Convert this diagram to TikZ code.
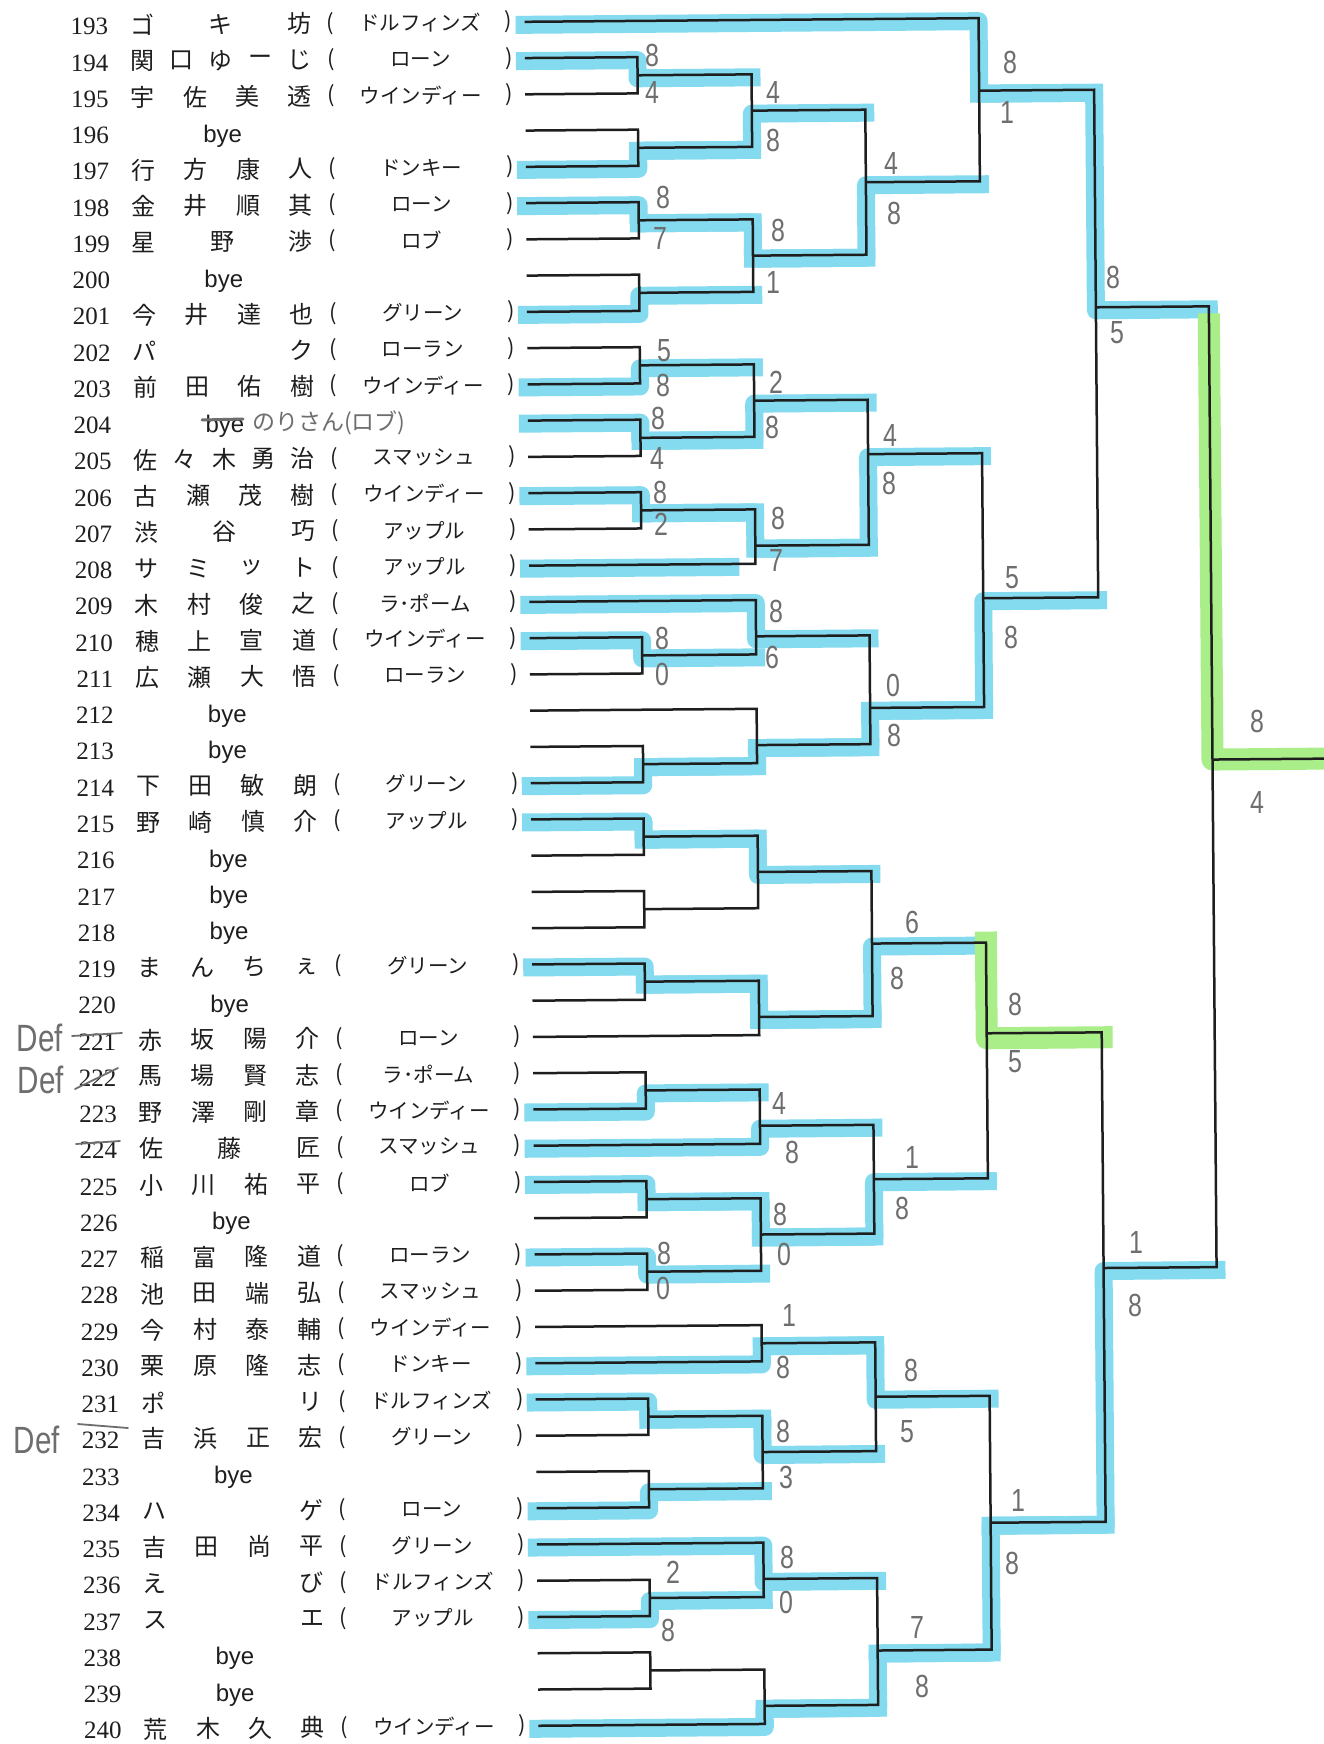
\documentclass[tikz,border=0pt]{standalone}
\usepackage{fontspec}
\setmainfont{Liberation Serif}
\newfontfamily\jpf{Noto Sans CJK JP}
\newfontfamily\sansf{Liberation Sans}
\newfontfamily\handf{Liberation Sans}[FakeStretch=0.78]
\pgfdeclarelayer{bg}
\pgfsetlayers{bg,main}
\definecolor{hlb}{RGB}{132,218,238}
\definecolor{hlg}{RGB}{170,238,138}
\definecolor{ink}{RGB}{30,30,30}
\definecolor{penc}{RGB}{110,110,110}
\pgfmathdeclarefunction{ry}{1}{\pgfmathparse{20.7+36.26*(#1-193)}}
\tikzset{
  br/.style={draw=ink, line width=2.5pt},
  hlbs/.style={draw=hlb, line width=18pt, line cap=rect, line join=round},
  hlgs/.style={draw=hlg, line width=22pt, line cap=rect, line join=round},
  numst/.style={font=\fontsize{25}{25}\selectfont, anchor=east, inner sep=0pt, text=ink},
  nmst/.style={font=\jpf\fontsize{24}{24}\selectfont, inner sep=0pt, text=ink},
  prn/.style={font=\jpf\fontsize{22}{22}\selectfont, inner sep=0pt, text=ink},
  teamst/.style={font=\jpf\fontsize{20.5}{20.5}\selectfont, inner sep=0pt, text=ink},
  byest/.style={font=\sansf\fontsize{24}{24}\selectfont, inner sep=0pt, anchor=base, text=ink},
  scst/.style={font=\handf\fontsize{32}{32}\selectfont, text=penc, inner sep=0pt},
  defst/.style={font=\handf\fontsize{38}{38}\selectfont, text=penc, inner sep=0pt},
  handjp/.style={font=\jpf\fontsize{23}{23}\selectfont, text=penc, inner sep=0pt},
  penl/.style={draw=penc, line width=1.8pt, line cap=round},
}
\newcommand\entry[4]{%
  \node[numst] (num#1) at (115,{ry(#1)+1.5}) {#1};
  \foreach \nmc [count=\k from 0] in {#3}
    \node[nmst] (nm#1-\k) at ({149+157*\k/(#2-1)},{ry(#1)}) {\nmc};
  \node[prn] (lp#1) at (337.5,{ry(#1)}) {(};
  \node[teamst] (tm#1) at (427,{ry(#1)}) {#4};
  \node[prn] (rp#1) at (515.5,{ry(#1)}) {)};
  \coordinate (s#1) at (531.5,{ry(#1)});
}
\newcommand\byeentry[1]{%
  \node[numst] (num#1) at (115,{ry(#1)+1.5}) {#1};
  \node[byest] (bye#1) at (228.5,{ry(#1)+9}) {bye};
  \coordinate (s#1) at (531.5,{ry(#1)});
}
\newcommand\mt[5]{%
  \coordinate (#1) at (#4,{ry(#5)});
  \draw[br] (#2) -| (#1) |- (#3);
}
\newcommand\hlm[3]{%
  \path (#2 -| #3) coordinate (hlend);
  \draw[hlbs] ([yshift=-3pt]#1) -| ([yshift=-3pt]#2) -- ([yshift=-3pt]hlend);
}
\begin{document}
\begin{tikzpicture}[x=1pt,y=-1pt]
\useasboundingbox (0,0) rectangle (1324,1744);
\begin{pgfonlayer}{bg}\fill[white] (0,0) rectangle (1324,1744);\end{pgfonlayer}
\begin{scope}[rotate around={0.46:(662,872)}]
\coordinate (col1) at (644,0);
\coordinate (col2) at (758,0);
\coordinate (col3) at (871.5,0);
\coordinate (col4) at (985.5,0);
\coordinate (col5) at (1100.5,0);
\coordinate (col6) at (1213.5,0);
\coordinate (col7) at (1345,0);
\entry{193}{3}{ゴ,キ,坊}{ドルフィンズ}
\entry{194}{5}{関,口,ゆ,ー,じ}{ローン}
\entry{195}{4}{宇,佐,美,透}{ウインディー}
\byeentry{196}
\entry{197}{4}{行,方,康,人}{ドンキー}
\entry{198}{4}{金,井,順,其}{ローン}
\entry{199}{3}{星,野,渉}{ロブ}
\byeentry{200}
\entry{201}{4}{今,井,達,也}{グリーン}
\entry{202}{2}{パ,ク}{ローラン}
\entry{203}{4}{前,田,佑,樹}{ウインディー}
\byeentry{204}
\entry{205}{5}{佐,々,木,勇,治}{スマッシュ}
\entry{206}{4}{古,瀬,茂,樹}{ウインディー}
\entry{207}{3}{渋,谷,巧}{アップル}
\entry{208}{4}{サ,ミ,ッ,ト}{アップル}
\entry{209}{4}{木,村,俊,之}{ラ･ポーム}
\entry{210}{4}{穂,上,宣,道}{ウインディー}
\entry{211}{4}{広,瀬,大,悟}{ローラン}
\byeentry{212}
\byeentry{213}
\entry{214}{4}{下,田,敏,朗}{グリーン}
\entry{215}{4}{野,崎,慎,介}{アップル}
\byeentry{216}
\byeentry{217}
\byeentry{218}
\entry{219}{4}{ま,ん,ち,ぇ}{グリーン}
\byeentry{220}
\entry{221}{4}{赤,坂,陽,介}{ローン}
\entry{222}{4}{馬,場,賢,志}{ラ･ポーム}
\entry{223}{4}{野,澤,剛,章}{ウインディー}
\entry{224}{3}{佐,藤,匠}{スマッシュ}
\entry{225}{4}{小,川,祐,平}{ロブ}
\byeentry{226}
\entry{227}{4}{稲,富,隆,道}{ローラン}
\entry{228}{4}{池,田,端,弘}{スマッシュ}
\entry{229}{4}{今,村,泰,輔}{ウインディー}
\entry{230}{4}{栗,原,隆,志}{ドンキー}
\entry{231}{2}{ポ,リ}{ドルフィンズ}
\entry{232}{4}{吉,浜,正,宏}{グリーン}
\byeentry{233}
\entry{234}{2}{ハ,ゲ}{ローン}
\entry{235}{4}{吉,田,尚,平}{グリーン}
\entry{236}{2}{え,び}{ドルフィンズ}
\entry{237}{2}{ス,エ}{アップル}
\byeentry{238}
\byeentry{239}
\entry{240}{4}{荒,木,久,典}{ウインディー}
% section A
\mt{a1}{s194}{s195}{644}{194.5}
\mt{a2}{s196}{s197}{644}{196.5}
\mt{a3}{a1}{a2}{758}{195.5}
\mt{a4}{s198}{s199}{644}{198.5}
\mt{a5}{s200}{s201}{644}{200.5}
\mt{a6}{a4}{a5}{758}{199.5}
\mt{a7}{a3}{a6}{871.5}{197.5}
\mt{a8}{s193}{a7}{985.5}{195}
% section B
\mt{b1}{s202}{s203}{644}{202.5}
\mt{b2}{s204}{s205}{644}{204.5}
\mt{b3}{b1}{b2}{758}{203.5}
\mt{b4}{s206}{s207}{644}{206.5}
\mt{b5}{b4}{s208}{758}{207.5}
\mt{b6}{b3}{b5}{871.5}{205}
\mt{b7}{s210}{s211}{644}{210.5}
\mt{b8}{s209}{b7}{758}{210}
\mt{b9}{s213}{s214}{644}{213.5}
\mt{b10}{s212}{b9}{758}{213}
\mt{b11}{b8}{b10}{871.5}{212}
\mt{b12}{b6}{b11}{985.5}{209}
\mt{T}{a8}{b12}{1100.5}{201}
% section C
\mt{c1m}{s215}{s216}{644}{215.5}
\mt{c2m}{s217}{s218}{644}{217.5}
\mt{c3m}{c1m}{c2m}{758}{216.5}
\mt{c4m}{s219}{s220}{644}{219.5}
\mt{c5m}{c4m}{s221}{758}{220.5}
\mt{c6m}{c3m}{c5m}{871.5}{218.5}
\mt{c7m}{s222}{s223}{644}{222.5}
\mt{c8m}{c7m}{s224}{758}{223.5}
\mt{c9m}{s225}{s226}{644}{225.5}
\mt{c10m}{s227}{s228}{644}{227.5}
\mt{c11m}{c9m}{c10m}{758}{226.5}
\mt{c12m}{c8m}{c11m}{871.5}{225}
\mt{c13m}{c6m}{c12m}{985.5}{221}
% section D
\mt{d1}{s229}{s230}{758}{229.5}
\mt{d2}{s231}{s232}{644}{231.5}
\mt{d3}{s233}{s234}{644}{233.5}
\mt{d4}{d2}{d3}{758}{232.5}
\mt{d5}{d1}{d4}{871.5}{231}
\mt{d6}{s236}{s237}{644}{236.5}
\mt{d7}{s235}{d6}{758}{236}
\mt{d8}{s238}{s239}{644}{238.5}
\mt{d9}{d8}{s240}{758}{239.5}
\mt{d10}{d7}{d9}{871.5}{238}
\mt{d11}{d5}{d10}{985.5}{234.5}
\mt{B}{c13m}{d11}{1100.5}{227.5}
\mt{F}{T}{B}{1213.5}{213.5}
\coordinate (fend) at (1345,{ry(213.5)});
\draw[br] (F) -- (fend);
% highlights
\begin{pgfonlayer}{bg}
\hlm{s194}{a1}{col2}
\hlm{s197}{a2}{col2}
\hlm{a2}{a3}{col3}
\hlm{s198}{a4}{col2}
\hlm{s201}{a5}{col2}
\hlm{a4}{a6}{col3}
\hlm{a6}{a7}{col4}
\hlm{s193}{a8}{col5}
\hlm{s203}{b1}{col2}
\hlm{s204}{b2}{col2}
\hlm{b2}{b3}{col3}
\hlm{s206}{b4}{col2}
\hlm{b4}{b5}{col3}
\hlm{b5}{b6}{col4}
\hlm{s210}{b7}{col2}
\hlm{s209}{b8}{col3}
\hlm{s214}{b9}{col2}
\hlm{b9}{b10}{col3}
\hlm{b10}{b11}{col4}
\hlm{b11}{b12}{col5}
\hlm{a8}{T}{col6}
\hlm{s215}{c1m}{col2}
\hlm{c1m}{c3m}{col3}
\hlm{s219}{c4m}{col2}
\hlm{c4m}{c5m}{col3}
\hlm{c5m}{c6m}{col4}
\hlm{s223}{c7m}{col2}
\hlm{s224}{c8m}{col3}
\hlm{s225}{c9m}{col2}
\hlm{s227}{c10m}{col2}
\hlm{c9m}{c11m}{col3}
\hlm{c11m}{c12m}{col4}
\hlm{s230}{d1}{col3}
\hlm{s231}{d2}{col2}
\hlm{s234}{d3}{col2}
\hlm{d2}{d4}{col3}
\hlm{d1}{d5}{col4}
\hlm{s237}{d6}{col2}
\hlm{s235}{d7}{col3}
\hlm{s240}{d9}{col3}
\hlm{d9}{d10}{col4}
\hlm{d10}{d11}{col5}
\hlm{d11}{B}{col6}
\path (s208 -| col2) coordinate (h208);
\draw[hlbs] ([yshift=-3pt]s208) -- ([yshift=-3pt,xshift=-25pt]h208);
\path (c6m -| c13m) coordinate (g1);
\path (c13m -| col5) coordinate (g1e);
\draw[hlgs] (g1) -- ([yshift=-5pt]c13m) -- ([yshift=-5pt]g1e);
\path (T -| F) coordinate (g2);
\path (F -| col7) coordinate (g2e);
\draw[hlgs] ([yshift=-18pt]g2) -- (F) -- (g2e);
\end{pgfonlayer}
\end{scope}
% handwritten scores
\foreach \x/\y/\t [count=\k] in {
 652/55/8, 652/92/4, 773/92/4, 773/140/8, 891/163/4, 894/213/8, 1010/62/8, 1007/112/1,
 663/197/8, 660/238/7, 778/230/8, 773/282/1, 1113/277/8, 1117/333/5,
 664/351/5, 663/385/8, 776/382/2, 772/427/8, 658/418/8, 657/458/4,
 890/435/4, 889/483/8, 660/492/8, 661/524/2, 778/518/8, 776/560/7,
 1012/578/5, 1011/637/8, 776/611/8, 772/657/6, 662/638/8, 662/674/0,
 893/685/0, 894/735/8, 1257/721/8, 1257/802/4,
 912/922/6, 897/978/8, 1015/1004/8, 1015/1062/5, 779/1103/4, 792/1152/8,
 912/1157/1, 902/1208/8, 780/1214/8, 784/1254/0, 664/1253/8, 663/1288/0,
 1136/1242/1, 1135/1305/8, 789/1315/1, 783/1367/8, 911/1370/8, 907/1432/5,
 783/1431/8, 786/1477/3, 1018/1500/1, 1012/1563/8, 787/1557/8, 786/1602/0,
 673/1572/2, 668/1630/8, 917/1627/7, 922/1686/8}
 \node[scst] (sc\k) at (\x,\y) {\t};
% Def notes and strike-outs
\node[defst] (def221) at (40,1038) {Def};
\node[defst] (def222) at (41,1080) {Def};
\node[defst] (def232) at (37,1440) {Def};
\draw[penl] (72,1036) -- (122,1033);
\draw[penl] (75,1089) -- (118,1068);
\draw[penl] (76,1144) -- (120,1141);
\draw[penl] (78,1424) -- (128,1428);
\draw[penl, line width=3pt] (202,420) -- (243,419);
\node[handjp, anchor=west] (nori) at (252,423) {のりさん(ロブ)};
\end{tikzpicture}
\end{document}
